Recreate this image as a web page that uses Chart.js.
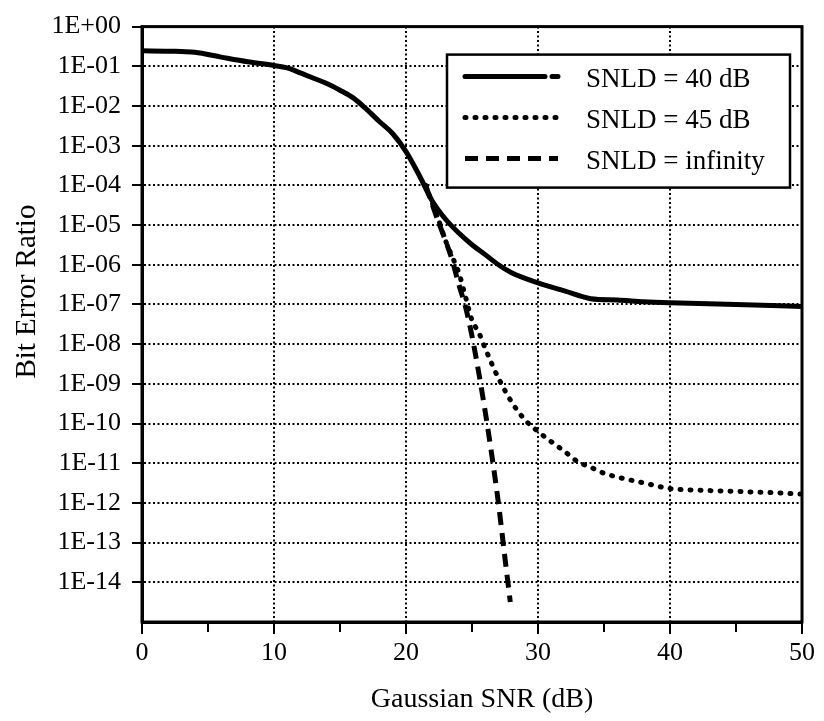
<!DOCTYPE html>
<html><head><meta charset="utf-8">
<script src="https://cdn.jsdelivr.net/npm/chart.js@4/dist/chart.umd.min.js"></script>
<style>html,body{margin:0;padding:0;background:#fff;}#wrap{width:824px;height:721px;}</style>
</head><body><div id="wrap"><canvas id="c" width="824" height="721"></canvas></div>
<script>
// ---- data ----
const snr40 = [0, 2, 4, 6, 8, 10, 11, 12, 13, 14, 15, 16, 17, 18, 19, 20, 21, 22, 23, 24, 25, 26, 27, 28, 30, 32, 34, 36, 38, 40, 45, 50];
const ber40 = [0.245, 0.24, 0.225, 0.17, 0.13, 0.105, 0.091, 0.068, 0.05, 0.037, 0.025, 0.016, 8.3e-3, 4.0e-3, 2.0e-3, 7.1e-4, 1.8e-4, 4.0e-5, 1.4e-5, 6.3e-6, 3.2e-6, 1.8e-6, 1.0e-6, 6.3e-7, 3.5e-7, 2.2e-7, 1.4e-7, 1.3e-7, 1.17e-7, 1.1e-7, 1.0e-7, 8.9e-8];
const snr45 = [21.5, 22, 22.5, 23, 23.5, 24, 24.5, 25, 25.5, 26, 26.5, 27, 28, 29, 30, 31, 32, 33, 34, 35, 36, 38, 40, 42, 44, 46, 48, 50];
const ber45 = [1.0e-4, 3.5e-5, 1.25e-5, 4.0e-6, 1.6e-6, 6.3e-7, 1.6e-7, 4.0e-8, 2.0e-8, 7.9e-9, 3.2e-9, 1.4e-9, 3.5e-10, 1.25e-10, 6.3e-11, 3.5e-11, 2.0e-11, 1.1e-11, 7.9e-12, 5.6e-12, 4.5e-12, 3.2e-12, 2.3e-12, 2.1e-12, 2.0e-12, 1.9e-12, 1.8e-12, 1.66e-12];
const snrInf = [21.5, 22, 22.5, 23, 23.5, 24, 24.5, 25, 25.5, 26, 26.5, 27, 27.5, 27.9];
const berInf = [1.0e-4, 3.2e-5, 1.1e-5, 4.0e-6, 1.3e-6, 3.2e-7, 8.9e-8, 1.6e-8, 2.0e-9, 2.0e-10, 1.6e-11, 1.0e-12, 4.0e-14, 3.2e-15];
const seriesNames = ['SNLD = 40 dB', 'SNLD = 45 dB', 'SNLD = infinity'];
const xTickLabels = ['0', '10', '20', '30', '40', '50'];
const yTickLabels = ['1E+00', '1E-01', '1E-02', '1E-03', '1E-04', '1E-05', '1E-06', '1E-07', '1E-08', '1E-09', '1E-10', '1E-11', '1E-12', '1E-13', '1E-14'];
const xTitle = 'Gaussian SNR (dB)';
const yTitle = 'Bit Error Ratio';

const FONT = "'Liberation Serif', 'Times New Roman', serif";
const WEIGHT = 'normal';
const pts = (xs, ys) => xs.map((x, i) => ({ x: x, y: ys[i] }));
const legendDash = [[80, 7, 7, 200], [1, 9], [13, 8]];

const framePlugin = {
  id: 'frame',
  afterDatasetsDraw(chart) {
    const { ctx, chartArea: a } = chart;
    ctx.save();
    ctx.strokeStyle = '#000';
    ctx.lineWidth = 3;
    ctx.setLineDash([]);
    ctx.strokeRect(a.left, a.top, a.right - a.left, a.bottom - a.top);
    // legend box
    const x0 = a.left + 305, y0 = a.top + 28, w = 343, h = 133;
    ctx.fillStyle = '#fff';
    ctx.fillRect(x0, y0, w, h);
    ctx.lineWidth = 2.5;
    ctx.strokeRect(x0, y0, w, h);
    chart.data.datasets.forEach((ds, i) => {
      const baseY = y0 + 32 + i * 41;
      const ly = baseY - 10;
      ctx.beginPath();
      ctx.lineWidth = ds.borderWidth;
      ctx.lineCap = ds.borderCapStyle || 'butt';
      ctx.setLineDash(legendDash[i]);
      ctx.moveTo(x0 + 18, ly);
      ctx.lineTo(x0 + 111, ly);
      ctx.stroke();
      ctx.setLineDash([]);
      ctx.fillStyle = '#000';
      ctx.font = WEIGHT + ' 27px ' + FONT;
      ctx.textAlign = 'left';
      ctx.textBaseline = 'alphabetic';
      ctx.fillText(ds.label, x0 + 139, baseY);
    });
    ctx.restore();
  },
  afterDraw(chart) {
    const { ctx, chartArea: a } = chart;
    ctx.save();
    ctx.fillStyle = '#000';
    ctx.font = WEIGHT + ' 28px ' + FONT;
    ctx.textAlign = 'center';
    ctx.textBaseline = 'alphabetic';
    ctx.fillText(xTitle, (a.left + a.right) / 2 + 10, 707);
    ctx.translate(35, a.top + 265);
    ctx.rotate(-Math.PI / 2);
    ctx.font = WEIGHT + ' 29px ' + FONT;
    ctx.fillText(yTitle, 0, 0);
    ctx.restore();
  }
};

new Chart(document.getElementById('c'), {
  type: 'line',
  data: {
    datasets: [
      { label: seriesNames[0], data: pts(snr40, ber40), borderColor: '#000', borderWidth: 5, borderCapStyle: 'round', borderDash: [], pointRadius: 0, cubicInterpolationMode: 'monotone', fill: false },
      { label: seriesNames[1], data: pts(snr45, ber45), borderColor: '#000', borderWidth: 5, borderCapStyle: 'round', borderDash: [1, 9], pointRadius: 0, cubicInterpolationMode: 'monotone', fill: false },
      { label: seriesNames[2], data: pts(snrInf, berInf), borderColor: '#000', borderWidth: 5, borderCapStyle: 'butt', borderDash: [13, 8], pointRadius: 0, cubicInterpolationMode: 'monotone', fill: false }
    ]
  },
  options: {
    responsive: false,
    devicePixelRatio: 1,
    animation: false,
    layout: { padding: { left: 0, right: 22, top: 22, bottom: 0 } },
    plugins: { legend: { display: false }, tooltip: { enabled: false }, title: { display: false } },
    scales: {
      x: {
        type: 'linear', min: 0, max: 50,
        afterFit: s => { s.height = 99; },
        ticks: {
          stepSize: 5, autoSkip: false, maxRotation: 0, padding: 4, color: '#000',
          font: { family: FONT, size: 26, weight: WEIGHT },
          callback: v => (xTickLabels.includes(String(v)) ? String(v) : '')
        },
        grid: {
          color: c => (c.tick && c.tick.value % 10 === 0 ? '#000' : 'rgba(0,0,0,0)'),
          lineWidth: 2,
          tickColor: '#000', tickWidth: 2, tickLength: 12,
          tickBorderDash: c => (c.tick && c.tick.value % 10 === 0 ? [] : [8, 40])
        },
        border: { display: true, color: '#000', width: 3, dash: [2, 2.5] }
      },
      y: {
        type: 'logarithmic', min: 1e-15, max: 1,
        afterFit: s => { s.width = 142; },
        afterBuildTicks: s => { s.ticks = yTickLabels.map(l => ({ value: Number(l) })); },
        ticks: {
          autoSkip: false, padding: 11, color: '#000',
          font: { family: FONT, size: 26, weight: WEIGHT },
          callback: (v, i) => (yTickLabels[i] !== undefined ? yTickLabels[i] : '')
        },
        grid: {
          color: '#000', lineWidth: 2,
          tickColor: '#000', tickWidth: 2, tickLength: 10, tickBorderDash: []
        },
        border: { display: true, color: '#000', width: 3, dash: [2, 2.5] }
      }
    }
  },
  plugins: [framePlugin]
});
</script>
</body></html>
